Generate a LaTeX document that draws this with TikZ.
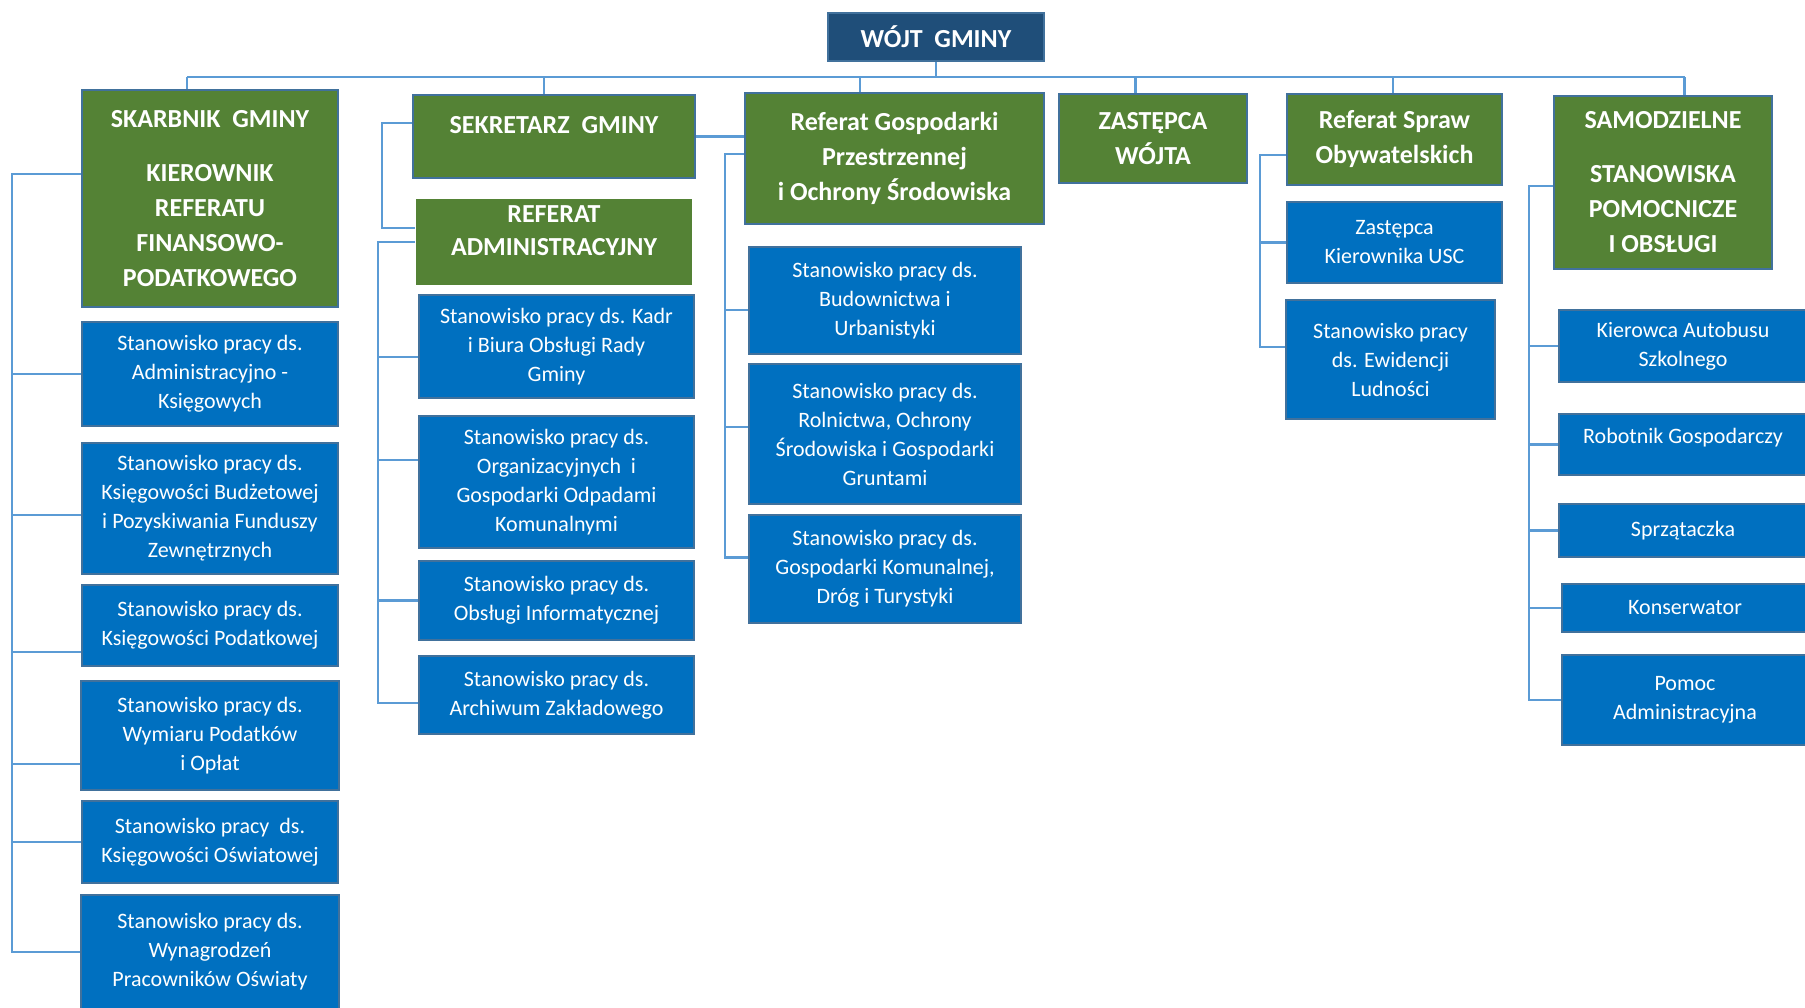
\documentclass[tikz,border=0pt]{standalone}
\usepackage{fontspec}
\setmainfont{Carlito}
\usepackage{xcolor}
\usepackage{tikz}
\usetikzlibrary{positioning}
\definecolor{wojtblue}{HTML}{1F4E79}
\definecolor{unitgreen}{HTML}{548235}
\definecolor{postblue}{HTML}{0070C0}
\definecolor{edge}{HTML}{41719C}
\definecolor{wire}{HTML}{5B9BD5}

\begin{document}
\begin{tikzpicture}[x=1pt,y=-1pt,
                    head/.style={draw=edge,line width=2pt,fill=wojtblue,text=white,
                                 align=center,inner sep=0pt,
                                 font=\bfseries\fontsize{26}{35}\selectfont},
                    unit/.style={head,fill=unitgreen},
                    post/.style={draw=edge,line width=2pt,fill=postblue,text=white,
                                 align=center,inner sep=0pt,
                                 font=\fontsize{22}{29}\selectfont},
                    link/.style={draw=wire,line width=2.5pt}]
  \useasboundingbox (0,0) rectangle (1805,1007);

  \node[head,minimum width=216pt,minimum height=48pt] (wojt) at (936,37) {WÓJT~~GMINY};

  % first level
  \node[unit,minimum width=256pt,minimum height=217pt] (skarb) at (210,198.5)
       {SKARBNIK~~GMINY\\[19pt]KIEROWNIK\\REFERATU\\FINANSOWO-\\PODATKOWEGO};
  \node[unit,minimum width=282pt,minimum height=83pt,text depth=24pt] (sekr) at (554,136.5)
       {SEKRETARZ~~GMINY};
  \node[unit,minimum width=299pt,minimum height=131pt] (refgp) at (894.5,158.5)
       {Referat Gospodarki\\Przestrzennej\\i Ochrony Środowiska};
  \node[unit,minimum width=188pt,minimum height=89pt]  (zast)  at (1153,138.5) {ZASTĘPCA\\WÓJTA};
  \node[unit,minimum width=215pt,minimum height=91pt]  (refso) at (1394.5,139.5) {Referat Spraw\\Obywatelskich};
  \node[unit,minimum width=218pt,minimum height=173pt] (samo)  at (1663,182)
       {SAMODZIELNE\\[19pt]STANOWISKA\\POMOCNICZE\\I OBSŁUGI};
  \node[unit,draw=none,minimum width=276pt,minimum height=86pt,text depth=22pt,
        font=\bfseries\fontsize{26}{33}\selectfont,below=19pt of sekr] (refadm)
       {REFERAT\\ADMINISTRACYJNY};

  % finance column
  \node[post,minimum width=256pt,minimum height=104pt,below=13pt of skarb] (ak)
       {Stanowisko pracy ds.\\Administracyjno -\\Księgowych};
  \node[post,minimum width=256pt,minimum height=131pt,below=15pt of ak] (kb)
       {Stanowisko pracy ds.\\Księgowości Budżetowej\\i Pozyskiwania Funduszy\\Zewnętrznych};
  \node[post,minimum width=256pt,minimum height=81pt,below=9pt of kb] (kp)
       {Stanowisko pracy ds.\\Księgowości Podatkowej};
  \node[post,minimum width=258pt,minimum height=109pt,below=13pt of kp] (wp)
       {Stanowisko pracy ds.\\Wymiaru Podatków\\i Opłat};
  \node[post,minimum width=256pt,minimum height=82pt,below=9pt of wp] (ko)
       {Stanowisko pracy~~ds.\\Księgowości Oświatowej};
  \node[post,minimum width=258pt,minimum height=114pt,below=10pt of ko] (wn)
       {Stanowisko pracy ds.\\Wynagrodzeń\\Pracowników Oświaty};

  % administration column
  \node[post,minimum width=275pt,minimum height=103pt,below=8pt of refadm,xshift=2.5pt] (kadr)
       {Stanowisko pracy ds. Kadr\\i Biura Obsługi Rady\\Gminy};
  \node[post,minimum width=275pt,minimum height=132pt,below=16pt of kadr] (org)
       {Stanowisko pracy ds.\\Organizacyjnych~~i\\Gospodarki Odpadami\\Komunalnymi};
  \node[post,minimum width=275pt,minimum height=79pt,below=11pt of org] (inf)
       {Stanowisko pracy ds.\\Obsługi Informatycznej};
  \node[post,minimum width=275pt,minimum height=78pt,below=14pt of inf] (arch)
       {Stanowisko pracy ds.\\Archiwum Zakładowego};

  % spatial planning column
  \node[post,minimum width=272pt,minimum height=107pt,below=21pt of refgp,xshift=-9.5pt] (bud)
       {Stanowisko pracy ds.\\Budownictwa i\\Urbanistyki};
  \node[post,minimum width=272pt,minimum height=140pt,below=8pt of bud] (rol)
       {Stanowisko pracy ds.\\Rolnictwa, Ochrony\\Środowiska i Gospodarki\\Gruntami};
  \node[post,minimum width=272pt,minimum height=108pt,below=9pt of rol] (kom)
       {Stanowisko pracy ds.\\Gospodarki Komunalnej,\\Dróg i Turystyki};

  % civil affairs column
  \node[post,minimum width=215pt,minimum height=81pt,below=15pt of refso] (zkusc)
       {Zastępca\\Kierownika USC};
  \node[post,minimum width=209pt,minimum height=119pt,below=15pt of zkusc,xshift=-4pt] (ewid)
       {Stanowisko pracy\\ds. Ewidencji\\Ludności};

  % support staff column
  \node[post,minimum width=248pt,minimum height=72pt,below=39.5pt of samo,xshift=20pt] (kier)
       {Kierowca Autobusu\\Szkolnego};
  \node[post,minimum width=248pt,minimum height=61pt,below=30pt of kier,text depth=17pt] (rob)
       {Robotnik Gospodarczy};
  \node[post,minimum width=248pt,minimum height=53pt,below=27pt of rob]  (sprz) {Sprzątaczka};
  \node[post,minimum width=246pt,minimum height=48pt,below=25pt of sprz,xshift=2pt] (kons) {Konserwator};
  \node[post,minimum width=246pt,minimum height=90pt,below=21pt of kons] (pomoc)
       {Pomoc\\Administracyjna};

  % top bus
  \coordinate (busL) at (187,77);
  \coordinate (busR) at (1684.5,77);
  \draw[link] (busL) -- (busR);
  \draw[link] (wojt.south) -- (wojt.south |- busL);
  \draw[link] (busL) -- (busL |- skarb.north);
  \draw[link] ([xshift=-10pt]sekr.north) -- ([xshift=-10pt]sekr.north |- busL);
  \draw[link] ([xshift=-34.5pt]refgp.north) -- ([xshift=-34.5pt]refgp.north |- busL);
  \draw[link] ([xshift=-17.5pt]zast.north) -- ([xshift=-17.5pt]zast.north |- busL);
  \draw[link] ([xshift=-1.5pt]refso.north) -- ([xshift=-1.5pt]refso.north |- busL);
  \draw[link] (busR) -- (busR |- samo.north);

  % finance branch
  \coordinate (spineF) at (12,0);
  \draw[link] ([yshift=24.5pt]skarb.west) -| (spineF |- wn.west) -- (wn.west);
  \draw[link] (spineF |- ak.west) -- (ak.west);
  \draw[link] ([yshift=-6.5pt]spineF |- kb.west) -- ([yshift=-6.5pt]kb.west);
  \draw[link] ([yshift=-26.5pt]spineF |- kp.west) -- ([yshift=-26.5pt]kp.west);
  \draw[link] ([yshift=-28.5pt]spineF |- wp.west) -- ([yshift=-28.5pt]wp.west);
  \draw[link] (spineF |- ko.west) -- (ko.west);

  % secretary and administration branch
  \draw[link] ([yshift=13.5pt]sekr.west) -- ++(-30,0) |- ([yshift=14pt]refadm.west);
  \draw[link] (sekr.east) -- (sekr.east -| refgp.west);
  \coordinate (spineA) at (378,0);
  \draw[link] (refadm.west) -| ([yshift=-8pt]spineA |- arch.west) -- ([yshift=-8pt]arch.west);
  \draw[link] ([yshift=-10.5pt]spineA |- kadr.west) -- ([yshift=-10.5pt]kadr.west);
  \draw[link] ([yshift=22pt]spineA |- org.west) -- ([yshift=22pt]org.west);
  \draw[link] (spineA |- inf.west) -- (inf.west);

  % spatial planning branch
  \coordinate (spineG) at (725,0);
  \draw[link] ([yshift=4.5pt]refgp.west) -| ([yshift=11.5pt]spineG |- kom.west) -- ([yshift=11.5pt]kom.west);
  \draw[link] ([yshift=-9.5pt]spineG |- bud.west) -- ([yshift=-9.5pt]bud.west);
  \draw[link] ([yshift=7pt]spineG |- rol.west) -- ([yshift=7pt]rol.west);

  % civil affairs branch
  \coordinate (spineS) at (1260,0);
  \draw[link] ([yshift=-15.5pt]refso.west) -| ([yshift=12.5pt]spineS |- ewid.west) -- ([yshift=12.5pt]ewid.west);
  \draw[link] (spineS |- zkusc.west) -- (zkusc.west);

  % support staff branch
  \coordinate (spineP) at (1529,0);
  \draw[link] ([yshift=-4pt]samo.west) -| (spineP |- pomoc.west) -- (pomoc.west);
  \draw[link] (spineP |- kier.west) -- (kier.west);
  \draw[link] (spineP |- rob.west) -- (rob.west);
  \draw[link] (spineP |- sprz.west) -- (sprz.west);
  \draw[link] (spineP |- kons.west) -- (kons.west);
\end{tikzpicture}
\end{document}
